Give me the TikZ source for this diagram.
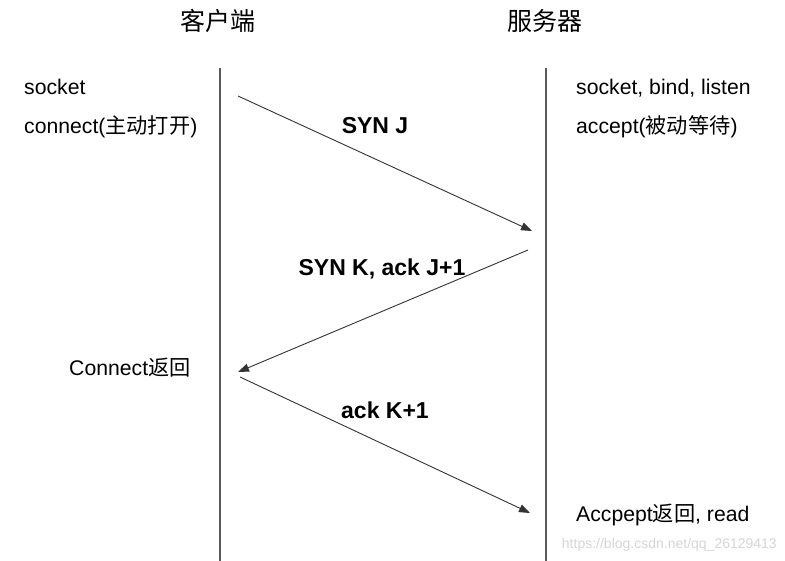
\documentclass[tikz,border=0pt]{standalone}
\usepackage{fontspec}
\setmainfont{Liberation Sans}
\newfontfamily\cjk{Noto Sans CJK SC}
\usetikzlibrary{arrows.meta}
\begin{document}
\begin{tikzpicture}[x=1pt,y=-1pt,
  lifeline/.style={draw=black!65,line width=1.4pt},
  msg/.style={draw=black!80,line width=0.9pt,-{Triangle[length=11pt,width=8pt]}},
  head/.style={font=\cjk\fontsize{25}{29}\selectfont,inner sep=0pt},
  lbl/.style={font=\fontsize{21.2}{25}\selectfont,inner sep=0pt,anchor=base west},
  bl/.style={font=\bfseries\fontsize{23}{27}\selectfont,inner sep=0pt,anchor=base}]
\useasboundingbox (0,0) rectangle (785,561);
\fill[white] (0,0) rectangle (785,561);
% headings
\node[head] (hc) at (218,21) {客户端};
\node[head] (hs) at (545,21) {服务器};
% lifelines
\coordinate (ct) at (220,68);
\coordinate (cb) at (220,561);
\coordinate (st) at (546,68);
\coordinate (sb) at (546,561);
\draw[lifeline] (ct) -- (cb);
\draw[lifeline] (st) -- (sb);
% side labels
\node[lbl] (l1) at (24,95) {socket};
\node[lbl] (l2) at (24,134) {connect({\cjk 主动打开})};
\node[lbl] (r1) at (576,95) {socket, bind, listen};
\node[lbl] (r2) at (576,134) {accept({\cjk 被动等待})};
\node[lbl] (l3) at (69,376) {Connect{\cjk 返回}};
\node[lbl] (r3) at (576,521) {Accpept{\cjk 返回}, read};
% message endpoints
\coordinate (a1) at (238,96);
\coordinate (b1) at (532,231);
\coordinate (a2) at (528,250);
\coordinate (b2) at (238,372);
\coordinate (a3) at (240,377);
\coordinate (b3) at (530,513);
\draw[msg] (a1) -- (b1);
\draw[msg] (a2) -- (b2);
\draw[msg] (a3) -- (b3);
% message labels
\node[bl] (m1) at (375,134) {SYN J};
\node[bl] (m2) at (382,276) {SYN K, ack J+1};
\node[bl] (m3) at (385,419) {ack K+1};
% watermark
\node[font=\fontsize{14}{16}\selectfont,text=black!16,inner sep=0pt,anchor=base east] (wm) at (777,548) {https://blog.csdn.net/qq\_26129413};
\end{tikzpicture}
\end{document}
